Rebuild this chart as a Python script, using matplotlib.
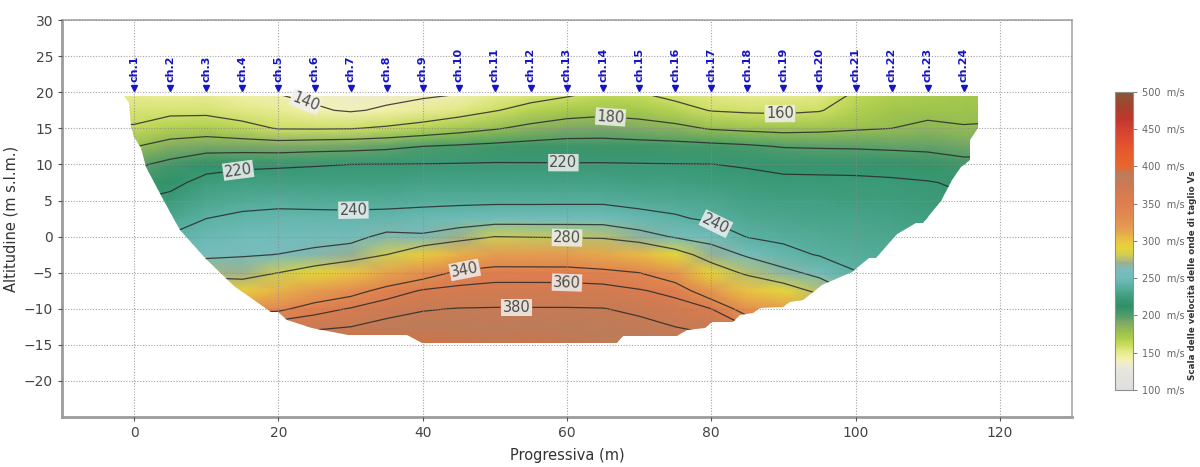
import numpy as np
import matplotlib
matplotlib.use("Agg")
import matplotlib.pyplot as plt
from matplotlib.colors import LinearSegmentedColormap, Normalize
from matplotlib.patches import Polygon
from matplotlib.cm import ScalarMappable

# ---------------------------------------------------------------------------
# Shear-wave velocity section (Vs, m/s) on a regular grid
# ---------------------------------------------------------------------------
grid_x = [-5, 0, 5, 10, 15, 20, 25, 30, 35, 40, 45, 50, 55, 60,
          65, 70, 75, 80, 85, 90, 95, 100, 105, 110, 115, 120]
grid_z = [20, 17.5, 15, 12.5, 10, 7.5, 5, 2.5, 0, -2.5, -5, -7.5, -10, -12.5, -15]

# one column per grid_x entry, values from top (z=20) to bottom (z=-15)
vs_columns = [
    [148, 155, 161, 179, 196, 208, 219, 229, 239, 249, 259, 275, 308, 343, 372],
    [148, 155, 161.4, 179.3, 196.6, 208.9, 220, 230, 240, 250, 260, 276.7, 310, 345, 373],
    [146, 156, 168.7, 187.6, 205, 215.4, 224.6, 232.8, 241.3, 251.7, 263.3, 280, 317.5, 360, 380],
    [147, 156, 170, 191.8, 213.9, 225.3, 232.6, 240, 248.3, 256.7, 272, 300, 333.3, 366.4, 389],
    [142, 152.5, 165, 191.1, 217, 227.1, 235.2, 243.1, 250.8, 258.5, 271.4, 295, 332.5, 370, 390],
    [139, 148.5, 159.1, 190, 217.9, 227.8, 236.3, 244.4, 252.4, 260.3, 280, 307.3, 334.5, 374.4, 392],
    [136, 142, 158.7, 192, 219, 227.7, 235.8, 244.2, 253, 264.5, 289.2, 318, 351, 377.4, 392],
    [134, 138.3, 159.2, 193.3, 220, 227.7, 235.4, 244, 254, 270, 298.8, 330, 361.5, 380, 395],
    [134, 142.4, 162.4, 195.7, 220.3, 227.9, 235.5, 245, 265, 280, 313.3, 348.3, 372.9, 386, 395],
    [136, 147.3, 166.7, 200, 220.6, 228.3, 236, 246.9, 262.9, 296.3, 327.5, 362, 378.7, 388, 395],
    [138.5, 152.5, 172.4, 202.5, 221.2, 228.9, 236.6, 248.8, 270.8, 308.5, 344.4, 366.3, 380.6, 388, 393],
    [148, 159.1, 178.4, 204.8, 221.8, 229.4, 237, 250.7, 280, 318.5, 350.5, 368.1, 381, 388, 392],
    [152, 165.7, 185, 206.7, 221.5, 229.2, 236.9, 251.1, 278.6, 317.9, 350.5, 368.1, 381, 389, 393],
    [156, 171.3, 190, 207.6, 221.3, 229.1, 236.9, 251.5, 277.5, 317.3, 350.5, 367.9, 381, 388, 391],
    [162, 174.5, 190.8, 207.6, 221.3, 229.1, 236.9, 251.5, 276.5, 311.4, 346.7, 367.7, 380.5, 387, 390],
    [160, 172.1, 188.3, 206.7, 220.9, 228, 235.1, 245.7, 268.3, 305.1, 340, 361.8, 376.5, 385, 388],
    [154, 166.2, 185, 206.1, 220.5, 227.3, 234.1, 241.9, 258.1, 289.3, 322.7, 354.1, 368.9, 380, 385],
    [150, 159.2, 178.4, 205, 220.2, 226, 231.7, 237.5, 252.2, 270.3, 292, 322, 360, 376.7, 385],
    [148, 157.4, 175.7, 202.6, 218.7, 224.5, 229.4, 234.3, 239.2, 257.5, 276.3, 301, 327.4, 360, 380],
    [148, 156.8, 173.9, 198.9, 216, 223.4, 227.8, 232.2, 236.6, 245, 266.1, 290, 317.8, 346.7, 372],
    [150, 158.9, 175.2, 198, 215.9, 223, 227, 231, 234.9, 238.9, 253.8, 275.5, 300, 330, 360],
    [161, 168.2, 178, 197.4, 215.7, 222.7, 226.2, 229.8, 233.3, 236.9, 240.4, 255, 275, 300, 330],
    [168, 174, 180, 196.1, 214.1, 222.2, 225.5, 228.8, 232.1, 235.4, 238.7, 245, 260, 280, 300],
    [170, 175.8, 183.4, 195.6, 209.7, 221, 224, 227, 230, 233, 236, 240, 250, 265, 280],
    [172, 176.2, 181, 192.9, 205, 217.5, 222, 225, 228, 231, 234, 237, 240, 250, 260],
    [173, 177, 181.5, 193, 205, 217.5, 222, 225, 228, 231, 234, 237, 240, 250, 260],
]

# outline of the area covered by the survey (progressive, altitude)
section_x = [-1.4, 117.0, 117.0, 115.8, 115.8, 114.6, 113.4, 111.8, 109.3, 108.4,
             105.7, 102.9, 101.9, 99.5, 95.4, 92.7, 90.9, 89.9, 86.7, 85.8,
             84.0, 83.0, 80.1, 79.1, 76.6, 75.2, 67.8, 67.0, 39.9, 37.8,
             29.7, 24.7, 21.2, 20.0, 18.9, 13.8, 10.1, 6.4, 4.1, 1.6,
             0.9, 0.0, -0.5, -0.7]
section_z = [19.5, 19.5, 15.0, 13.4, 10.6, 9.7, 7.9, 5.0, 1.9, 1.9,
             0.3, -3.0, -3.0, -4.9, -6.7, -8.8, -9.0, -9.7, -9.9, -10.6,
             -10.8, -11.9, -11.9, -12.6, -12.9, -13.8, -13.8, -14.7, -14.7, -13.7,
             -13.6, -12.6, -11.5, -10.5, -10.5, -6.9, -3.2, 0.9, 5.0, 9.6,
             12.3, 13.8, 15.2, 18.5]

# geophones
channel_x = [0, 5, 10, 15, 20, 25, 30, 35, 40, 45, 50, 55,
             60, 65, 70, 75, 80, 85, 90, 95, 100, 105, 110, 115]
channel_labels = [f"ch.{i}" for i in range(1, 25)]
channel_z = 20.6

contour_levels = [140, 160, 180, 200, 220, 240, 260, 280, 340, 360, 380]
label_points = [(23.5, 18.2), (89.5, 16.5), (66, 16.3), (14.3, 9.7), (59.5, 10.4),
                (30.4, 3.5), (80.3, 1.4), (60, -0.2), (45.8, -4.5), (60, -6.0),
                (53, -9.7)]

colorbar_ticks = [100, 150, 200, 250, 300, 350, 400, 450, 500]

# velocity colour scale
scale_values = [100, 130, 140, 150, 160, 170, 180, 190, 200, 212, 225, 240, 250,
                262, 270, 280, 290, 300, 315, 335, 355, 375, 390, 400, 420, 445,
                465, 480, 500]
scale_colors = ["#dedede", "#e8e8dc", "#f4f2b0", "#e6ea8c", "#c8dc5c", "#aacc4a",
                "#94bc52", "#7ea866", "#4e9c6c", "#2f9066", "#3e9c7c", "#5cb2a4",
                "#70bcba", "#7cbcbc", "#98ae94", "#cccc58", "#e6d43a", "#eac442",
                "#e4a04e", "#e28852", "#de7c4e", "#cc7a52", "#bc7c5a", "#e8662e",
                "#e85a2c", "#d84630", "#c0362e", "#a8402e", "#8a5636"]

vmin, vmax = scale_values[0], scale_values[-1]
cmap = LinearSegmentedColormap.from_list(
    "vs_scale",
    [((v - vmin) / (vmax - vmin), c) for v, c in zip(scale_values, scale_colors)])
norm = Normalize(vmin=vmin, vmax=vmax)

X, Z = np.meshgrid(np.array(grid_x, float), np.array(grid_z, float))
V = np.array(vs_columns, float).T

fig = plt.figure(figsize=(12, 4.67), dpi=100)
ax = fig.add_axes([0.0517, 0.107, 0.8416, 0.850])

outline = Polygon(np.column_stack([section_x, section_z]), closed=True,
                  facecolor="none", edgecolor="none")
ax.add_patch(outline)

mesh = ax.pcolormesh(X, Z, V, shading="gouraud", cmap=cmap, norm=norm, zorder=1)
mesh.set_clip_path(outline)

cs = ax.contour(X, Z, V, levels=contour_levels, colors="#2a2a2a",
                linewidths=0.9, alpha=0.85, zorder=2)
labels = ax.clabel(cs, manual=label_points, fmt="%d", fontsize=10.5,
                   inline=True, inline_spacing=4, colors="#333333")
for t in labels:
    t.set_bbox(dict(boxstyle="square,pad=0.08", fc="#efefef", ec="none", alpha=0.85))
cs.set_clip_path(outline)

# geophone markers and names
ax.plot(channel_x, [channel_z] * len(channel_x), linestyle="none", marker="v",
        color="#1414c8", markersize=5, zorder=4)
for cx, name in zip(channel_x, channel_labels):
    ax.text(cx, channel_z + 0.8, name, rotation=90, ha="center", va="bottom",
            color="#1414c8", fontsize=8, fontweight="bold", zorder=4)

ax.set_xlim(-10, 130)
ax.set_ylim(-25, 30)
ax.set_xticks(range(0, 121, 20))
ax.set_yticks(range(-20, 31, 5))
ax.set_axisbelow(False)
ax.grid(True, linestyle=(0, (1, 1.5)), color="#8c8c8c", linewidth=0.8, alpha=0.8)
ax.tick_params(colors="#555555", labelsize=10, length=3, width=0.8,
               labelcolor="#444444")
for side in ("left", "bottom"):
    ax.spines[side].set_color("#9c9c9c")
    ax.spines[side].set_linewidth(2.0)
for side in ("top", "right"):
    ax.spines[side].set_color("#a8a8a8")
    ax.spines[side].set_linewidth(1.2)

ax.set_xlabel("Progressiva (m)", fontsize=10.5, color="#333333", labelpad=6)
ax.set_ylabel("Altitudine (m s.l.m.)", fontsize=10.5, color="#333333", labelpad=4)

# colour bar
cax = fig.add_axes([0.929, 0.165, 0.015, 0.638])
sm = ScalarMappable(norm=norm, cmap=cmap)
cb = fig.colorbar(sm, cax=cax, ticks=colorbar_ticks)
cb.ax.set_yticklabels([f"{v}  m/s" for v in colorbar_ticks])
cb.ax.tick_params(labelsize=7, colors="#666666", length=3, width=0.6)
cb.outline.set_edgecolor("#909090")
cb.outline.set_linewidth(0.8)
fig.text(0.994, 0.41, "Scala delle velocità delle onde di taglio Vs", rotation=90,
         ha="center", va="center", fontsize=6.3, fontweight="bold", color="#333333")

fig.savefig("out.png", dpi=100)
